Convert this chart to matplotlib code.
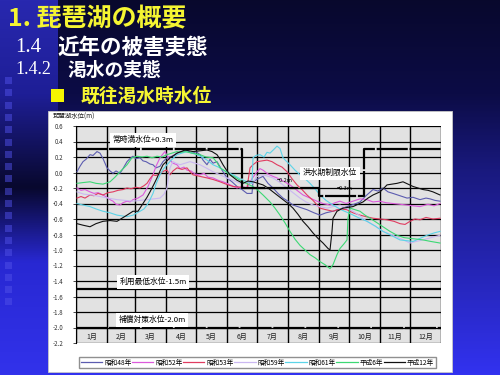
import numpy as np
import matplotlib
matplotlib.use("Agg")
import matplotlib.pyplot as plt
from matplotlib.patches import Rectangle
from matplotlib.lines import Line2D

plt.rcParams['font.family'] = ['Noto Sans CJK JP', 'DejaVu Sans']

# ---- data (day of year, lake level in m) ----
months = ['1月', '2月', '3月', '4月', '5月', '6月', '7月', '8月', '9月', '10月', '11月', '12月']
month_days = [31, 28, 31, 30, 31, 30, 31, 31, 30, 31, 30, 31]
yticks = [0.6, 0.4, 0.2, 0.0, -0.2, -0.4, -0.6, -0.8, -1.0, -1.2, -1.4, -1.6, -1.8, -2.0, -2.2]

# normal full level / flood season limit (step line)
rule_days = [0, 166, 166, 243, 243, 288, 288, 365]
rule_level = [0.3, 0.3, -0.2, -0.2, -0.3, -0.3, 0.3, 0.3]

s48_days = [1, 4, 7, 10, 14, 17, 21, 24, 27, 31, 34, 37, 40, 44, 47, 51, 54, 57, 60, 64, 67, 70, 74, 77,
            80, 84, 87, 91, 96, 101, 106, 111, 114, 117, 120, 124, 127, 131, 134, 137, 141, 146, 151, 156,
            161, 166, 171, 176, 177, 182, 187, 192, 197, 202, 207, 212, 217, 224, 231, 238, 244, 250, 257,
            264, 271, 278, 284, 290, 297, 302, 307, 312, 317, 324, 331, 337, 344, 350, 354, 359, 364]
s48 = [0.01, 0.08, 0.14, 0.17, 0.23, 0.22, 0.27, 0.25, 0.18, 0.06, 0.02, -0.01, 0.02, -0.01, 0.05, 0.14,
       0.18, 0.21, 0.18, 0.19, 0.15, 0.14, 0.11, 0.1, 0.06, 0.08, 0.14, 0.19, 0.21, 0.25, 0.27, 0.29, 0.26,
       0.25, 0.27, 0.23, 0.16, 0.1, 0.17, 0.12, 0.14, 0.03, -0.07, -0.12, -0.18, -0.22, -0.27, -0.27, -0.12,
       -0.08, -0.05, -0.14, -0.2, -0.27, -0.33, -0.37, -0.42, -0.45, -0.48, -0.52, -0.55, -0.52, -0.5,
       -0.47, -0.44, -0.41, -0.38, -0.3, -0.22, -0.24, -0.2, -0.25, -0.27, -0.3, -0.33, -0.32, -0.35,
       -0.33, -0.34, -0.36, -0.37]

s52_days = [1, 5, 9, 14, 18, 22, 27, 31, 34, 37, 40, 44, 47, 51, 54, 57, 62, 67, 72, 77, 80, 84, 87, 89,
            91, 94, 97, 101, 104, 108, 111, 115, 119, 124, 128, 132, 137, 142, 147, 151, 156, 161, 166, 171,
            176, 181, 184, 187, 192, 197, 201, 207, 214, 220, 227, 234, 241, 247, 254, 259, 264, 270, 277,
            284, 291, 297, 304, 310, 317, 324, 331, 337, 344, 352, 358, 364]
s52 = [-0.2, -0.23, -0.22, -0.25, -0.27, -0.26, -0.29, -0.32, -0.35, -0.37, -0.41, -0.42, -0.39, -0.37,
       -0.38, -0.35, -0.33, -0.29, -0.18, -0.03, 0.08, 0.19, 0.24, 0.27, 0.22, 0.16, 0.12, 0.1, 0.05, 0.07,
       0.03, 0.02, -0.02, -0.03, -0.01, -0.06, -0.07, -0.1, -0.12, -0.14, -0.17, -0.2, -0.18, -0.2, -0.08,
       0.01, 0.05, 0.03, -0.02, -0.05, -0.07, -0.11, -0.16, -0.22, -0.29, -0.33, -0.37, -0.4, -0.42, -0.39,
       -0.37, -0.4, -0.37, -0.34, -0.35, -0.38, -0.37, -0.39, -0.4, -0.41, -0.42, -0.43, -0.44, -0.41,
       -0.43, -0.4]

s53_days = [1, 5, 9, 14, 18, 22, 27, 32, 37, 42, 47, 51, 55, 60, 64, 68, 71, 74, 77, 80, 84, 88, 91, 94,
            97, 101, 106, 111, 114, 117, 124, 131, 137, 144, 150, 157, 164, 171, 174, 177, 181, 186, 191,
            196, 201, 206, 211, 216, 221, 226, 231, 237, 244, 250, 257, 264, 271, 277, 284, 290, 297, 304,
            311, 318, 324, 329, 334, 339, 344, 350, 357, 364]
s53 = [-0.33, -0.31, -0.33, -0.29, -0.3, -0.27, -0.29, -0.26, -0.25, -0.23, -0.22, -0.2, -0.21, -0.19,
       -0.2, -0.17, -0.14, -0.08, -0.03, -0.04, -0.01, 0.02, 0.03, -0.03, 0.02, 0.06, 0.04, 0.06, 0.01,
       -0.03, -0.05, -0.07, -0.09, -0.12, -0.15, -0.18, -0.19, -0.2, 0.06, 0.1, 0.14, 0.15, 0.16, 0.14,
       0.1, 0.07, 0.01, -0.08, -0.16, -0.22, -0.29, -0.36, -0.46, -0.48, -0.5, -0.47, -0.48, -0.52, -0.55,
       -0.57, -0.59, -0.6, -0.61, -0.63, -0.66, -0.67, -0.63, -0.6, -0.61, -0.58, -0.6, -0.59]

s59_days = [1, 8, 16, 24, 32, 41, 49, 57, 64, 71, 78, 84, 88, 91, 94, 97, 100, 104, 109, 114, 119, 124,
            130, 137, 144, 151, 157, 164, 170, 177, 180, 184, 190, 197, 204, 211, 217, 224, 230, 237, 244,
            251, 257, 264, 270, 277, 284, 291, 299, 307, 315, 324, 329, 334, 340, 347, 355, 364]
s59 = [-0.25, -0.28, -0.29, -0.31, -0.33, -0.35, -0.36, -0.37, -0.36, -0.35, -0.34, -0.33, -0.28, -0.2,
       0.06, 0.14, 0.12, 0.1, 0.12, 0.14, 0.12, 0.1, 0.06, 0.01, -0.03, -0.07, -0.1, -0.14, -0.12, -0.14,
       -0.06, -0.03, -0.04, -0.07, -0.13, -0.2, -0.26, -0.33, -0.38, -0.42, -0.44, -0.46, -0.44, -0.42,
       -0.46, -0.5, -0.56, -0.63, -0.69, -0.76, -0.8, -0.85, -0.88, -0.91, -0.89, -0.87, -0.84, -0.81]

s61_days = [1, 7, 14, 20, 27, 34, 41, 46, 51, 57, 64, 68, 71, 74, 77, 80, 84, 87, 91, 96, 101, 106, 111,
            116, 121, 126, 131, 137, 144, 150, 157, 164, 171, 176, 177, 180, 184, 188, 191, 194, 198, 201,
            204, 207, 210, 214, 219, 224, 229, 234, 239, 244, 250, 257, 265, 274, 282, 291, 299, 307, 315,
            324, 331, 337, 344, 351, 358, 364]
s61 = [-0.4, -0.42, -0.44, -0.47, -0.5, -0.52, -0.55, -0.56, -0.57, -0.55, -0.5, -0.47, -0.42, -0.35,
       -0.27, -0.15, -0.03, 0.04, 0.1, 0.17, 0.23, 0.25, 0.27, 0.25, 0.23, 0.2, 0.16, 0.1, 0.06, 0.01,
       -0.03, -0.08, -0.12, -0.14, 0.19, 0.22, 0.23, 0.2, 0.26, 0.25, 0.3, 0.34, 0.31, 0.19, 0.15, 0.1,
       0.03, -0.03, -0.08, -0.14, -0.21, -0.29, -0.36, -0.42, -0.48, -0.53, -0.58, -0.63, -0.69, -0.76,
       -0.81, -0.87, -0.88, -0.89, -0.85, -0.81, -0.78, -0.76]

h06_days = [1, 7, 14, 20, 27, 34, 39, 44, 48, 51, 56, 61, 66, 71, 76, 81, 86, 91, 96, 101, 105, 109, 116,
            124, 130, 137, 141, 144, 149, 154, 159, 164, 170, 177, 182, 187, 194, 199, 204, 209, 214, 219,
            224, 229, 234, 239, 244, 249, 254, 257, 261, 264, 268, 271, 272, 274, 279, 284, 289, 294, 300,
            307, 314, 321, 328, 334, 341, 347, 355, 364]
h06 = [-0.14, -0.13, -0.12, -0.14, -0.15, -0.12, -0.06, 0.01, 0.06, 0.1, 0.19, 0.21, 0.2, 0.21, 0.19,
       0.21, 0.2, 0.23, 0.25, 0.27, 0.26, 0.27, 0.25, 0.23, 0.2, 0.19, 0.13, 0.06, 0.02, -0.03, -0.06, -0.1,
       -0.14, -0.18, -0.23, -0.29, -0.38, -0.46, -0.55, -0.65, -0.76, -0.86, -0.94, -1.0, -1.06, -1.1,
       -1.15, -1.19, -1.24, -1.19, -1.06, -0.98, -0.92, -0.87, -0.59, -0.46, -0.48, -0.5, -0.55, -0.59,
       -0.64, -0.7, -0.76, -0.81, -0.84, -0.85, -0.86, -0.87, -0.89, -0.91]

h12_days = [1, 7, 14, 20, 27, 34, 41, 46, 51, 57, 62, 67, 71, 74, 78, 81, 84, 87, 91, 94, 98, 101, 105,
            109, 113, 117, 124, 131, 136, 141, 144, 147, 150, 154, 158, 161, 167, 172, 177, 182, 187, 192,
            197, 202, 207, 212, 217, 222, 227, 232, 237, 242, 247, 252, 254, 256, 257, 261, 267, 272, 277,
            282, 287, 292, 297, 304, 308, 311, 316, 321, 327, 332, 337, 342, 347, 352, 357, 364]
h12 = [-0.66, -0.68, -0.7, -0.66, -0.63, -0.62, -0.63, -0.59, -0.55, -0.5, -0.5, -0.4, -0.32, -0.25,
       -0.15, -0.07, 0.02, 0.1, 0.15, 0.19, 0.22, 0.25, 0.27, 0.29, 0.28, 0.27, 0.28, 0.29, 0.27, 0.23,
       0.17, 0.1, 0.04, -0.03, -0.07, -0.1, -0.14, -0.11, -0.12, -0.14, -0.16, -0.2, -0.25, -0.3, -0.35,
       -0.4, -0.46, -0.54, -0.63, -0.7, -0.78, -0.85, -0.91, -0.98, -1.0, -0.76, -0.59, -0.5, -0.46, -0.45,
       -0.44, -0.41, -0.38, -0.33, -0.29, -0.25, -0.2, -0.16, -0.15, -0.14, -0.12, -0.15, -0.18, -0.2,
       -0.22, -0.23, -0.25, -0.29]

series = [
    ('昭和48年', s48_days, s48, '#5c5cb0'),
    ('昭和52年', s52_days, s52, '#dc5adc'),
    ('昭和53年', s53_days, s53, '#e03c60'),
    ('昭和59年', s59_days, s59, '#cbb8f2'),
    ('昭和61年', s61_days, s61, '#5cd4e8'),
    ('平成6年', h06_days, h06, '#3cd874'),
    ('平成12年', h12_days, h12, '#101010'),
]

W, H = 500, 375
fig = plt.figure(figsize=(5, 3.75), dpi=100)

# ---- slide background ----
bg = fig.add_axes([0, 0, 1, 1])
bg.set_xlim(0, W)
bg.set_ylim(H, 0)
bg.axis('off')
yy = np.linspace(0, 1, 200)[:, None]
main_r = np.interp(yy, [0, 0.25, 0.45, 1], [8, 12, 25, 50])
main_b = np.interp(yy, [0, 0.25, 0.45, 1], [45, 70, 125, 240])
img = np.zeros((200, W, 3))
img[:, :, 0] = main_r / 255
img[:, :, 1] = main_r / 255
img[:, :, 2] = main_b / 255
band_r = np.interp(yy[:, 0], [0, 0.25, 0.5, 0.7, 1], [40, 30, 8, 40, 50])
band_b = np.interp(yy[:, 0], [0, 0.25, 0.5, 0.7, 1], [175, 150, 45, 210, 235])
img[:, :58, 0] = band_r[:, None] / 255
img[:, :58, 1] = band_r[:, None] / 255
img[:, :58, 2] = band_b[:, None] / 255
bg.imshow(img, extent=[0, W, H, 0], aspect='auto')
for k in range(19):
    bg.add_patch(Rectangle((5, 77 + k * 12.3), 7, 7, color='#5050e8', alpha=0.5, lw=0))

# titles
bg.text(8, 19, '1. 琵琶湖の概要', color='#f5f532', fontsize=18, fontweight='bold', va='center')
bg.text(15, 47, '1.4', color='white', fontsize=15, family='Liberation Serif', va='center')
bg.text(57, 47, '近年の被害実態', color='white', fontsize=15.5, fontweight='bold', va='center')
bg.text(15, 70, '1.4.2', color='white', fontsize=13, family='Liberation Serif', va='center')
bg.text(67, 70, '渇水の実態', color='white', fontsize=13.5, fontweight='bold', va='center')
bg.add_patch(Rectangle((51, 89), 13, 13, color='#f5f500', lw=0))
bg.text(81, 96, '既往渇水時水位', color='#f5f532', fontsize=13.5, fontweight='bold', va='center')

# white panel
bg.add_patch(Rectangle((48, 111), 404, 261, facecolor='white', edgecolor='#c8c8c8', lw=0.6))
bg.text(53, 117, '琵琶湖水位(m)', fontsize=4.6, color='#202020', va='center')

# ---- chart ----
ax = fig.add_axes([76 / W, 1 - 343 / H, 365 / W, 217 / H])
ax.set_facecolor('#e2e2e2')
ax.set_xlim(0, 365)
ax.set_ylim(-2.2, 0.6)

bounds = np.concatenate([[0], np.cumsum(month_days)])
for v in yticks:
    ax.axhline(v, color='black', lw=0.9, zorder=1)
for b in bounds:
    ax.axvline(b, color='black', lw=1.0, zorder=1)
for i, m in enumerate(months):
    ax.text((bounds[i] + bounds[i + 1]) / 2, -2.125, m, ha='center', va='center',
            fontsize=5, color='#202020', zorder=5)

for name, d, v, c in series:
    ax.plot(d, v, color=c, lw=0.8, label=name, zorder=3)

ax.plot(rule_days, rule_level, color='black', lw=1.6, dashes=(14, 0.8), zorder=4)
ax.axhline(-1.5, color='black', lw=1.6, zorder=4)
ax.axhline(-2.0, color='black', lw=1.6, dashes=(14, 0.8), zorder=4)

box = dict(boxstyle='square,pad=0.35', facecolor='white', edgecolor='none')
ax.text(67, 0.42, '常時満水位+0.3m', fontsize=5.6, ha='center', va='center', bbox=box, zorder=6)
ax.text(254, -0.01, '洪水期制限水位', fontsize=5.6, ha='center', va='center', bbox=box, zorder=6)
ax.text(209, -0.1, '−0.2m', fontsize=4, ha='center', va='center', zorder=6)
ax.text(269, -0.2, '−0.3m', fontsize=4, ha='center', va='center', zorder=6)
ax.text(77, -1.41, '利用最低水位-1.5m', fontsize=5.6, ha='center', va='center', bbox=box, zorder=6)
ax.text(76, -1.9, '補償対策水位-2.0m', fontsize=5.6, ha='center', va='center', bbox=box, zorder=6)

ax.set_yticks(yticks)
ax.set_yticklabels(['%.1f' % t for t in yticks], fontsize=4.4, color='#303030')
ax.set_xticks([])
ax.tick_params(axis='y', length=2, width=0.5, pad=7)
for s in ax.spines.values():
    s.set_visible(False)
ax.spines['left'].set_visible(True)
ax.spines['left'].set_linewidth(0.8)

handles = [Line2D([], [], color=c, lw=0.9) for _, _, _, c in series]
fig.legend(handles, [s[0] for s in series], loc='center', ncol=7, mode='expand',
           bbox_to_anchor=(76 / W, 1 - 369 / H, 363 / W, 13 / H), fontsize=4.8,
           handlelength=3.2, handletextpad=0.3, columnspacing=0.6, borderpad=0.25,
           fancybox=False, edgecolor='#909090', framealpha=1)

fig.savefig('out.png', dpi=100)
